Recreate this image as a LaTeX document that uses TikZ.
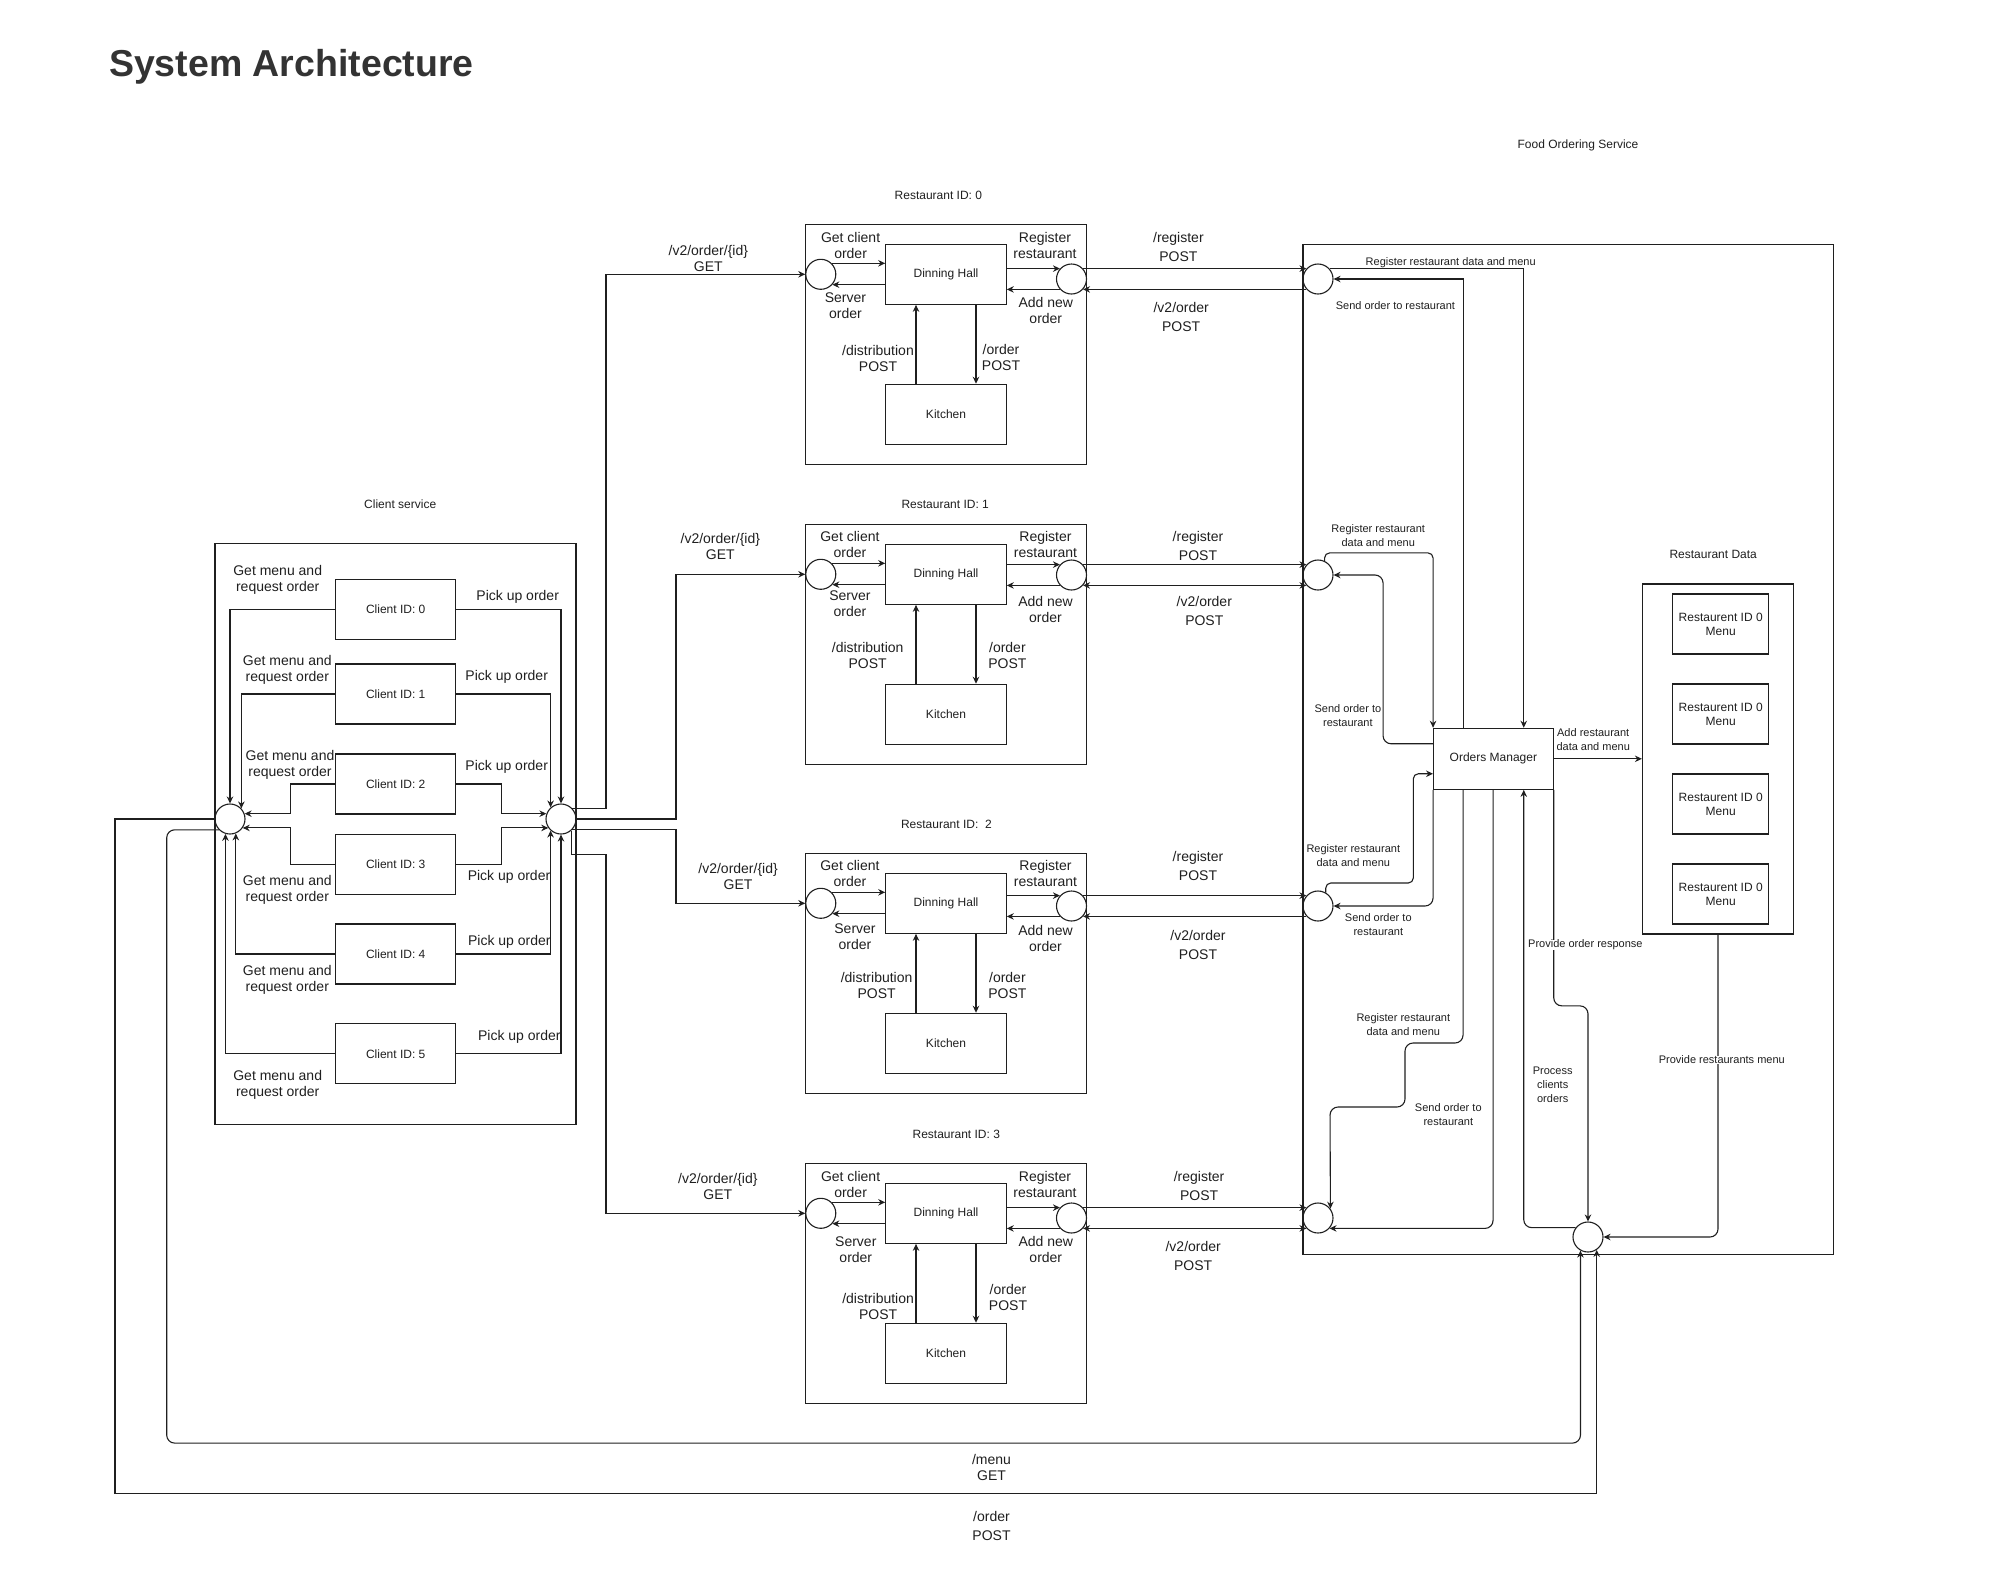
\documentclass[tikz,border=0pt]{standalone}
\usepackage{fontspec}
\setmainfont{Liberation Sans}
\usetikzlibrary{arrows.meta, positioning, shapes.geometric, calc}
\definecolor{ink}{HTML}{1F1F1F}
\definecolor{titlegray}{HTML}{333333}

\begin{document}
\begin{tikzpicture}[x=1pt, y=-1pt, line width=1.1pt, color=ink]
            \tikzstyle{frame} = [draw, rectangle, inner sep=0]
            \tikzstyle{box} = [draw, rectangle, minimum width=120.5pt, minimum height=60pt, font=\fontsize{12}{14}\selectfont, align=center, inner sep=0]
            \tikzstyle{port} = [draw, circle, minimum size=30pt, inner sep=0]
            \tikzstyle{lbl} = [font=\fontsize{14}{16}\selectfont, align=center, inner sep=0]
            \tikzstyle{lblwide} = [font=\fontsize{14}{19}\selectfont, align=center, inner sep=0]
            \tikzstyle{caption} = [font=\fontsize{12}{14}\selectfont, align=center, inner sep=0]
            \tikzstyle{note} = [font=\fontsize{11}{14}\selectfont, align=center, inner sep=0]
            \tikzstyle{flow} = [-{Stealth[length=7pt, width=6.5pt]}]
            \tikzstyle{flowboth} = [{Stealth[length=7pt, width=6.5pt]}-{Stealth[length=7pt, width=6.5pt]}]

            \useasboundingbox (0,0) rectangle (1992,1572);
            \node[anchor=base west, inner sep=0, text=titlegray, font=\bfseries\fontsize{37.5}{40}\selectfont] (title) at (108.5,76) {System Architecture};

            \node[frame, minimum width=361pt, minimum height=580.5pt] (client_frame) at (395.5,834) {};
            \node[caption] (client_title) at (400.2,504.3) {Client service};
            \node[box, minimum width=120pt] (client0) at (395.7,609.2) {Client ID: 0};
            \node[box, minimum width=120pt] (client1) at (395.7,694) {Client ID: 1};
            \node[box, minimum width=120pt] (client2) at (395.7,784) {Client ID: 2};
            \node[box, minimum width=120pt] (client3) at (395.7,864.3) {Client ID: 3};
            \node[box, minimum width=120pt] (client4) at (395.7,954) {Client ID: 4};
            \node[box, minimum width=120pt] (client5) at (395.7,1053.9) {Client ID: 5};
            \node[port] (client_request) at (230,819) {};
            \node[port] (client_pickup) at (561,819) {};

            \node[lbl] (get_menu0) at (277.7,579.9) {Get menu and\\request order};
            \node[lbl] (get_menu1) at (287.3,670.3) {Get menu and\\request order};
            \node[lbl] (get_menu2) at (290,765) {Get menu and\\request order};
            \node[lbl] (get_menu3) at (287.3,889.9) {Get menu and\\request order};
            \node[lbl] (get_menu4) at (287.3,979.7) {Get menu and\\request order};
            \node[lbl] (get_menu5) at (277.7,1084.9) {Get menu and\\request order};
            \node[lbl] (pick_up0) at (517.7,596.5) {Pick up order};
            \node[lbl] (pick_up1) at (506.7,676.9) {Pick up order};
            \node[lbl] (pick_up2) at (506.7,766.8) {Pick up order};
            \node[lbl] (pick_up3) at (509,876.7) {Pick up order};
            \node[lbl] (pick_up4) at (509.3,941.7) {Pick up order};
            \node[lbl] (pick_up5) at (519.3,1036.6) {Pick up order};

            \draw[flow] (client0.west) -| (client_request.north);
            \draw[flow] (client1.west) -| (client_request.43);
            \draw[flow] (client2.west) -- ++(-45,0) |- (client_request.20);
            \draw[flow] (client3.west) -- ++(-45,0) |- (client_request.-35);
            \draw[flow] (client4.west) -| (client_request.-68);
            \draw[flow] (client5.west) -| (client_request.-107);
            \draw[flow] (client0.east) -| (client_pickup.north);
            \draw[flow] (client1.east) -| (client_pickup.132);
            \draw[flow] (client2.east) -- ++(45.3,0) |- (client_pickup.160);
            \draw[flow] (client3.east) -- ++(45.3,0) |- (client_pickup.215);
            \draw[flow] (client4.east) -| (client_pickup.228);
            \draw[flow] (client5.east) -| (client_pickup.south);

            \node[frame, minimum width=280.7pt, minimum height=239.7pt] (r0_frame) at (946.2,344.2) {};
            \node[caption] (r0_title) at (938.4,195) {Restaurant ID: 0};
            \node[box] (r0_hall) at (946,274.3) {Dinning Hall};
            \node[box] (r0_kitchen) at (946,414.3) {Kitchen};
            \node[port] (r0_in) at (820.8,274.3) {};
            \node[port] (r0_out) at (1071.5,279) {};
            \node[lbl] (r0_get) at (850.6,245.3) {Get client\\order};
            \node[lbl] (r0_serve) at (845.4,305.3) {Server\\order};
            \node[lbl] (r0_reg) at (1045,245.3) {Register\\restaurant};
            \node[lbl] (r0_add) at (1045.8,310.7) {Add new\\order};
            \node[lbl] (r0_dist) at (878,358.4) {/distribution\\POST};
            \node[lbl] (r0_cook) at (1001,357.2) {/order\\POST};
            \node[lblwide] (r0_register) at (1178.4,246.7) {/register\\POST};
            \node[lblwide] (r0_v2) at (1181.2,316.7) {/v2/order\\POST};
            \node[lbl] (r0_fetch) at (708.3,258) {/v2/order/\{id\}\\GET};

            \node[frame, minimum width=280.7pt, minimum height=239.7pt] (r1_frame) at (946.2,644.2) {};
            \node[caption] (r1_title) at (945.2,504.3) {Restaurant ID: 1};
            \node[box] (r1_hall) at (946,574.3) {Dinning Hall};
            \node[box] (r1_kitchen) at (946,714.3) {Kitchen};
            \node[port] (r1_in) at (820.8,574.3) {};
            \node[port] (r1_out) at (1071.5,575) {};
            \node[lbl] (r1_get) at (849.9,544.4) {Get client\\order};
            \node[lbl] (r1_serve) at (849.9,604.1) {Server\\order};
            \node[lbl] (r1_reg) at (1045.5,544.4) {Register\\restaurant};
            \node[lbl] (r1_add) at (1045.5,609.8) {Add new\\order};
            \node[lbl] (r1_dist) at (867.7,655.5) {/distribution\\POST};
            \node[lbl] (r1_cook) at (1007.4,655.5) {/order\\POST};
            \node[lblwide] (r1_register) at (1198,545.6) {/register\\POST};
            \node[lblwide] (r1_v2) at (1204.3,611) {/v2/order\\POST};
            \node[lbl] (r1_fetch) at (720.3,546.3) {/v2/order/\{id\}\\GET};

            \node[frame, minimum width=280.7pt, minimum height=239.7pt] (r2_frame) at (946.2,973.2) {};
            \node[caption] (r2_title) at (946.4,824.5) {Restaurant ID:\ \ 2};
            \node[box] (r2_hall) at (946,903.3) {Dinning Hall};
            \node[box] (r2_kitchen) at (946,1043.3) {Kitchen};
            \node[port] (r2_in) at (820.8,903.3) {};
            \node[port] (r2_out) at (1071.5,906) {};
            \node[lbl] (r2_get) at (849.9,873.4) {Get client\\order};
            \node[lbl] (r2_serve) at (855,937) {Server\\order};
            \node[lbl] (r2_reg) at (1045.5,873.4) {Register\\restaurant};
            \node[lbl] (r2_add) at (1045.5,938.8) {Add new\\order};
            \node[lbl] (r2_dist) at (876.6,985) {/distribution\\POST};
            \node[lbl] (r2_cook) at (1007.4,985.8) {/order\\POST};
            \node[lblwide] (r2_register) at (1198,865.8) {/register\\POST};
            \node[lblwide] (r2_v2) at (1198,945.2) {/v2/order\\POST};
            \node[lbl] (r2_fetch) at (738.1,876) {/v2/order/\{id\}\\GET};

            \node[frame, minimum width=280.7pt, minimum height=239.7pt] (r3_frame) at (946.2,1283.2) {};
            \node[caption] (r3_title) at (956.3,1134.3) {Restaurant ID: 3};
            \node[box] (r3_hall) at (946,1213.3) {Dinning Hall};
            \node[box] (r3_kitchen) at (946,1353.3) {Kitchen};
            \node[port] (r3_in) at (820.8,1213.3) {};
            \node[port] (r3_out) at (1071.5,1218) {};
            \node[lbl] (r3_get) at (850.6,1184.7) {Get client\\order};
            \node[lbl] (r3_serve) at (855.8,1249.7) {Server\\order};
            \node[lbl] (r3_reg) at (1045,1184.7) {Register\\restaurant};
            \node[lbl] (r3_add) at (1045.8,1249.7) {Add new\\order};
            \node[lbl] (r3_dist) at (878.1,1306.7) {/distribution\\POST};
            \node[lbl] (r3_cook) at (1008,1297.8) {/order\\POST};
            \node[lblwide] (r3_register) at (1199.1,1186.2) {/register\\POST};
            \node[lblwide] (r3_v2) at (1193.2,1256) {/v2/order\\POST};
            \node[lbl] (r3_fetch) at (717.8,1186) {/v2/order/\{id\}\\GET};

            \draw[flow] (r0_in.45) -- (r0_in.45 -| r0_hall.west);
            \draw[flow] (r0_hall.west |- r0_in.-42) -- (r0_in.-42);
            \draw[flow] (r0_hall.east |- r0_out.138) -- (r0_out.138);
            \draw[flow] (r0_out.222) -- (r0_out.222 -| r0_hall.east);
            \draw[flow] ([xshift=-30pt]r0_kitchen.north) -- ([xshift=-30pt]r0_hall.south);
            \draw[flow] ([xshift=30pt]r0_hall.south) -- ([xshift=30pt]r0_kitchen.north);
            \draw[flow] (r1_in.45) -- (r1_in.45 -| r1_hall.west);
            \draw[flow] (r1_hall.west |- r1_in.-42) -- (r1_in.-42);
            \draw[flow] (r1_hall.east |- r1_out.138) -- (r1_out.138);
            \draw[flow] (r1_out.222) -- (r1_out.222 -| r1_hall.east);
            \draw[flow] ([xshift=-30pt]r1_kitchen.north) -- ([xshift=-30pt]r1_hall.south);
            \draw[flow] ([xshift=30pt]r1_hall.south) -- ([xshift=30pt]r1_kitchen.north);
            \draw[flow] (r2_in.45) -- (r2_in.45 -| r2_hall.west);
            \draw[flow] (r2_hall.west |- r2_in.-42) -- (r2_in.-42);
            \draw[flow] (r2_hall.east |- r2_out.138) -- (r2_out.138);
            \draw[flow] (r2_out.222) -- (r2_out.222 -| r2_hall.east);
            \draw[flow] ([xshift=-30pt]r2_kitchen.north) -- ([xshift=-30pt]r2_hall.south);
            \draw[flow] ([xshift=30pt]r2_hall.south) -- ([xshift=30pt]r2_kitchen.north);
            \draw[flow] (r3_in.45) -- (r3_in.45 -| r3_hall.west);
            \draw[flow] (r3_hall.west |- r3_in.-42) -- (r3_in.-42);
            \draw[flow] (r3_hall.east |- r3_out.138) -- (r3_out.138);
            \draw[flow] (r3_out.222) -- (r3_out.222 -| r3_hall.east);
            \draw[flow] ([xshift=-30pt]r3_kitchen.north) -- ([xshift=-30pt]r3_hall.south);
            \draw[flow] ([xshift=30pt]r3_hall.south) -- ([xshift=30pt]r3_kitchen.north);

            \draw[flow] (client_pickup.44) -| (606,274.3) -- (r0_in.west);
            \draw[flow] (client_pickup.east) -| (676,574.3) -- (r1_in.west);
            \draw[flow] (client_pickup.-43) -| (676,903.3) -- (r2_in.west);
            \draw[flow] (client_pickup.-48) -- ++(0,24) -| (606,1213.3) -- (r3_in.west);

            \node[frame, minimum width=530.6pt, minimum height=1009.7pt] (fos_frame) at (1568.3,749.2) {};
            \node[caption] (fos_title) at (1578,145) {Food Ordering Service};
            \node[port] (fos0) at (1318,279) {};
            \node[port] (fos1) at (1318,575) {};
            \node[port] (fos2) at (1318,906) {};
            \node[port] (fos3) at (1318,1218) {};
            \node[port] (fos_client) at (1588,1237) {};
            \node[box, minimum width=119.6pt, minimum height=61pt] (orders_manager) at (1493.4,758.8) {Orders Manager};
            \node[frame, minimum width=151.1pt, minimum height=350pt] (rest_data) at (1718,759) {};
            \node[caption] (rest_data_title) at (1713.2,554) {Restaurant Data};
            \node[box, minimum width=95.7pt] (menu0) at (1720.7,624) {Restaurent ID 0\\Menu};
            \node[box, minimum width=95.7pt] (menu1) at (1720.7,714) {Restaurent ID 0\\Menu};
            \node[box, minimum width=95.7pt] (menu2) at (1720.7,804) {Restaurent ID 0\\Menu};
            \node[box, minimum width=95.7pt] (menu3) at (1720.7,894) {Restaurent ID 0\\Menu};

            \draw[flow] (r0_out.42) -- (fos0.138);
            \draw[flow] (fos0.222) -- (r0_out.318);
            \draw[flow] (r1_out.42) -- (fos1.138);
            \draw[flowboth] (fos1.222) -- (r1_out.318);
            \draw[flow] (r2_out.42) -- (fos2.138);
            \draw[flow] (fos2.222) -- (r2_out.318);
            \draw[flow] (r3_out.42) -- (fos3.138);
            \draw[flowboth] (fos3.222) -- (r3_out.318);

            \draw[flow] (fos0.42) -| ([xshift=-30pt]orders_manager.north east);
            \draw[flow] ([xshift=30pt]orders_manager.north west) |- (fos0.east);
            \draw[flow, rounded corners=5pt] (fos1.65) -- ++(0,-8) -| (orders_manager.north west);
            \draw[flow, rounded corners=8pt] ([yshift=-16pt]orders_manager.north west) -- ++(-50,0) |- (fos1.east);
            \draw[flow, rounded corners=5pt] (fos2.60) |- (1413.3,883) |- ([yshift=-46pt]orders_manager.north west);
            \draw[flow, rounded corners=8pt] (orders_manager.south west) |- (fos2.east);
            \draw[flow, rounded corners=8pt] ([xshift=30pt]orders_manager.south west) |- (1405,1043) |- (1330,1107) -- (fos3.37);
            \draw[flow, rounded corners=8pt] ([xshift=60pt]orders_manager.south west) |- (fos3.318);
            \draw[flow, rounded corners=8pt] (fos_client.143) -| ([xshift=-30pt]orders_manager.south east);
            \draw[flow, rounded corners=8pt] (orders_manager.south east) -- ++(0,216) -| (fos_client.north);
            \draw[flow, rounded corners=8pt] (rest_data.south) |- (fos_client.east);
            \draw[flow] (orders_manager.east) -- (orders_manager.east -| rest_data.west);

            \node[note] (reg_note0) at (1450.7,262.3) {Register restaurant data and menu};
            \node[note] (send_note0) at (1395.4,306) {Send order to restaurant};
            \node[note] (reg_note1) at (1378.2,535.3) {Register restaurant\\data and menu};
            \node[note] (send_note1) at (1347.9,715.3) {Send order to\\restaurant};
            \node[note] (reg_note2) at (1353.3,855.4) {Register restaurant\\data and menu};
            \node[note] (send_note2) at (1378.3,925) {Send order to\\restaurant};
            \node[note] (reg_note3) at (1403.3,1025) {Register restaurant\\data and menu};
            \node[note] (send_note3) at (1448.3,1115) {Send order to\\restaurant};
            \node[note] (add_note) at (1593.2,739.7) {Add restaurant\\data and menu};
            \node[note, fill=white] (response_note) at (1585.4,945) {Provide order response};
            \node[note] (process_note) at (1552.7,1085) {Process\\clients\\orders};
            \node[note, fill=white] (menu_note) at (1721.8,1060) {Provide restaurants menu};

            \draw[flow, rounded corners=8pt] (client_request.224) -| (166.7,1443.1) -| (fos_client.241);
            \draw[flow] (client_request.west) -| (115,1493.5) -| (fos_client.304);
            \node[lbl] (menu_get) at (991.5,1467) {/menu\\GET};
            \node[lblwide] (order_post) at (991.5,1525.5) {/order\\POST};
        \end{tikzpicture}
\end{document}
